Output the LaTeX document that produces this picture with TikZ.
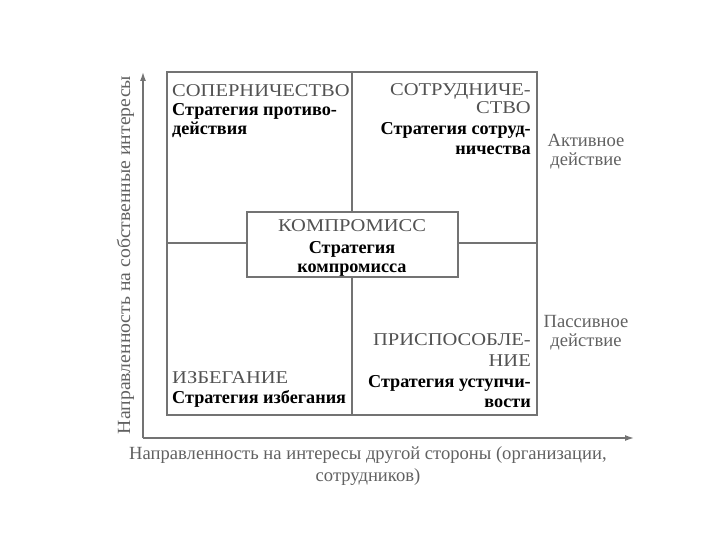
\documentclass[tikz,border=0pt]{standalone}
\usepackage{fontspec}
\setmainfont{Liberation Serif}
\newfontfamily\capsfont[FakeStretch=1.14]{Liberation Serif}
\usetikzlibrary{arrows.meta}
\begin{document}
\begin{tikzpicture}[x=1pt,y=-1pt,
  frame/.style={draw=black!55,line width=1.4pt},
  capt/.style={text=black!68,font=\capsfont\fontsize{18}{19}\selectfont,inner sep=0pt},
  strat/.style={text=black,font=\bfseries\fontsize{18.2}{19}\selectfont,inner sep=0pt},
  side/.style={text=black!62,font=\fontsize{18.6}{19}\selectfont,inner sep=0pt},
  axis/.style={draw=black!55,line width=1.4pt,-{Latex[length=9pt,width=6pt]}}]
\useasboundingbox (0,0) rectangle (720,540);
% quadrants
\draw[frame] (167,72) rectangle (537,415);
\coordinate (tm) at (352,72); \coordinate (bm) at (352,415);
\coordinate (lm) at (167,243); \coordinate (rm) at (537,243);
\draw[frame] (tm) -- (bm);
\draw[frame] (lm) -- (rm);
\node[frame,fill=white,minimum width=211pt,minimum height=65pt,inner sep=0pt] (comp) at (352.5,244.5) {};
% top left
\node[capt,anchor=base west] (t1) at (172,97) {СОПЕРНИЧЕСТВО};
\node[strat,anchor=base west] (s1a) at (172,116) {Стратегия противо-};
\node[strat,anchor=base west] (s1b) at (172,135) {действия};
% top right
\node[capt,anchor=base east] (t2a) at (531,96) {СОТРУДНИЧЕ-};
\node[capt,anchor=base east] (t2b) at (531,114) {СТВО};
\node[strat,anchor=base east] (s2a) at (531,135) {Стратегия сотруд-};
\node[strat,anchor=base east] (s2b) at (531,155) {ничества};
% centre
\node[capt,anchor=base] (t3) at (352,232) {КОМПРОМИСС};
\node[strat,anchor=base] (s3a) at (352,253) {Стратегия};
\node[strat,anchor=base] (s3b) at (352,272) {компромисса};
% bottom right
\node[capt,anchor=base east] (t4a) at (531,345) {ПРИСПОСОБЛЕ-};
\node[capt,anchor=base east] (t4b) at (531,366) {НИЕ};
\node[strat,anchor=base east] (s4a) at (531,387) {Стратегия уступчи-};
\node[strat,anchor=base east] (s4b) at (531,407) {вости};
% bottom left
\node[capt,anchor=base west] (t5) at (172,383) {ИЗБЕГАНИЕ};
\node[strat,anchor=base west] (s5) at (172,403) {Стратегия избегания};
% side labels
\node[side,anchor=base] (act1) at (586,147) {Активное};
\node[side,anchor=base] (act2) at (586,166) {действие};
\node[side,anchor=base] (pas1) at (586,327) {Пассивное};
\node[side,anchor=base] (pas2) at (586,346) {действие};
% axes
\coordinate (o) at (143,438);
\coordinate (ye) at (143,72);
\coordinate (xe) at (634,438);
\draw[axis] (o) -- (ye);
\draw[axis] (o) -- (xe);
\node[side,rotate=90,anchor=base] (yl) at (130,255) {\scalebox{1.06}[1]{Направленность на собственные интересы}};
\node[side,anchor=base] (xl1) at (368,459) {Направленность на интересы другой стороны (организации,};
\node[side,anchor=base] (xl2) at (368,481) {сотрудников)};
\end{tikzpicture}
\end{document}
